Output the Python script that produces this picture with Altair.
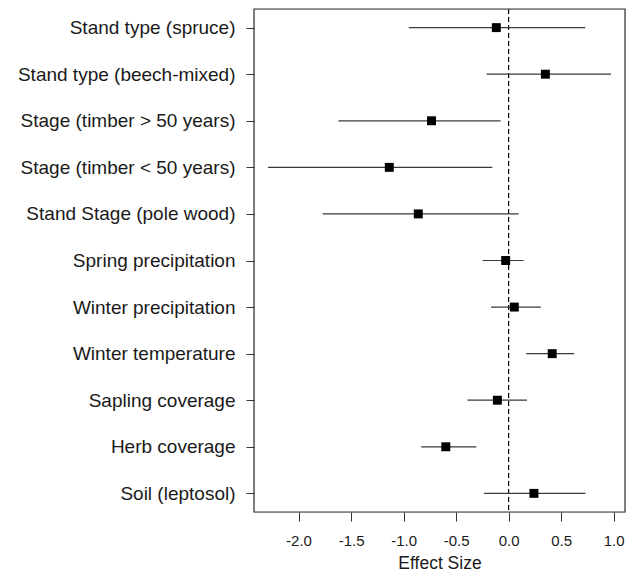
import altair as alt
import pandas as pd

categories = [
    "Stand type (spruce)",
    "Stand type (beech-mixed)",
    "Stage (timber > 50 years)",
    "Stage (timber < 50 years)",
    "Stand Stage (pole wood)",
    "Spring precipitation",
    "Winter precipitation",
    "Winter temperature",
    "Sapling coverage",
    "Herb coverage",
    "Soil (leptosol)",
]
estimate = [-0.117, 0.35, -0.734, -1.136, -0.86, -0.028, 0.054, 0.415, -0.107, -0.598, 0.241]
lower = [-0.95, -0.21, -1.62, -2.29, -1.77, -0.247, -0.167, 0.168, -0.392, -0.832, -0.234]
upper = [0.73, 0.975, -0.076, -0.155, 0.095, 0.142, 0.307, 0.624, 0.175, -0.307, 0.731]
x_ticks = [-2.0, -1.5, -1.0, -0.5, 0.0, 0.5, 1.0]

df = pd.DataFrame({"term": categories, "est": estimate, "lo": lower, "hi": upper})
zero = pd.DataFrame({"x": [0.0]})

FONT = "Liberation Sans"
W, H = 371, 503
x_scale = alt.Scale(domain=[-2.424, 1.108], nice=False, zero=False)
y_scale = alt.Scale(type="point", padding=0.4)

y_enc = alt.Y(
    "term:N",
    sort=categories,
    scale=y_scale,
    axis=alt.Axis(
        title=None,
        labelFont=FONT,
        labelFontSize=19,
        labelColor="#1a1a1a",
        tickSize=8,
        tickColor="#333",
        labelPadding=11,
        domain=False,
        grid=False,
        labelLimit=400,
    ),
)

bars = alt.Chart(df).mark_rule(color="#3a3a3a", strokeWidth=1.2).encode(
    x=alt.X(
        "lo:Q",
        scale=x_scale,
        axis=alt.Axis(
            title="Effect Size",
            values=x_ticks,
            labelExpr="replace(format(datum.value, '.1f'), '\u2212', '-')",
            labelFont=FONT,
            labelFontSize=15,
            labelColor="#1a1a1a",
            titleFont=FONT,
            titleFontSize=17.5,
            titleFontWeight="normal",
            titleColor="#1a1a1a",
            titlePadding=6,
            tickSize=9,
            tickColor="#333",
            labelPadding=12,
            domain=False,
            grid=False,
        ),
    ),
    x2="hi:Q",
    y=y_enc,
)

points = alt.Chart(df).mark_point(
    shape="square", filled=True, color="black", size=80, opacity=1
).encode(
    x=alt.X("est:Q", scale=x_scale),
    y=alt.Y("term:N", sort=categories, scale=y_scale),
)

vline = alt.Chart(zero).mark_rule(
    color="black", strokeDash=[5, 3], strokeWidth=1.2
).encode(x=alt.X("x:Q", scale=x_scale))

frame = alt.Chart(zero).mark_rect(
    fill=None, fillOpacity=0, stroke="#333333", strokeWidth=1.2
).encode(x=alt.value(0), x2=alt.value(W), y=alt.value(0), y2=alt.value(H))

chart = (
    alt.layer(vline, bars, points, frame)
    .properties(
        width=W,
        height=H,
        autosize=alt.AutoSizeParams(type="none"),
        padding={"left": 254, "top": 9, "right": 7, "bottom": 62},
    )
    .configure_view(stroke=None)
    .configure(background="white")
)

chart.save("out.html", embed_options={"renderer": "svg", "actions": False})
